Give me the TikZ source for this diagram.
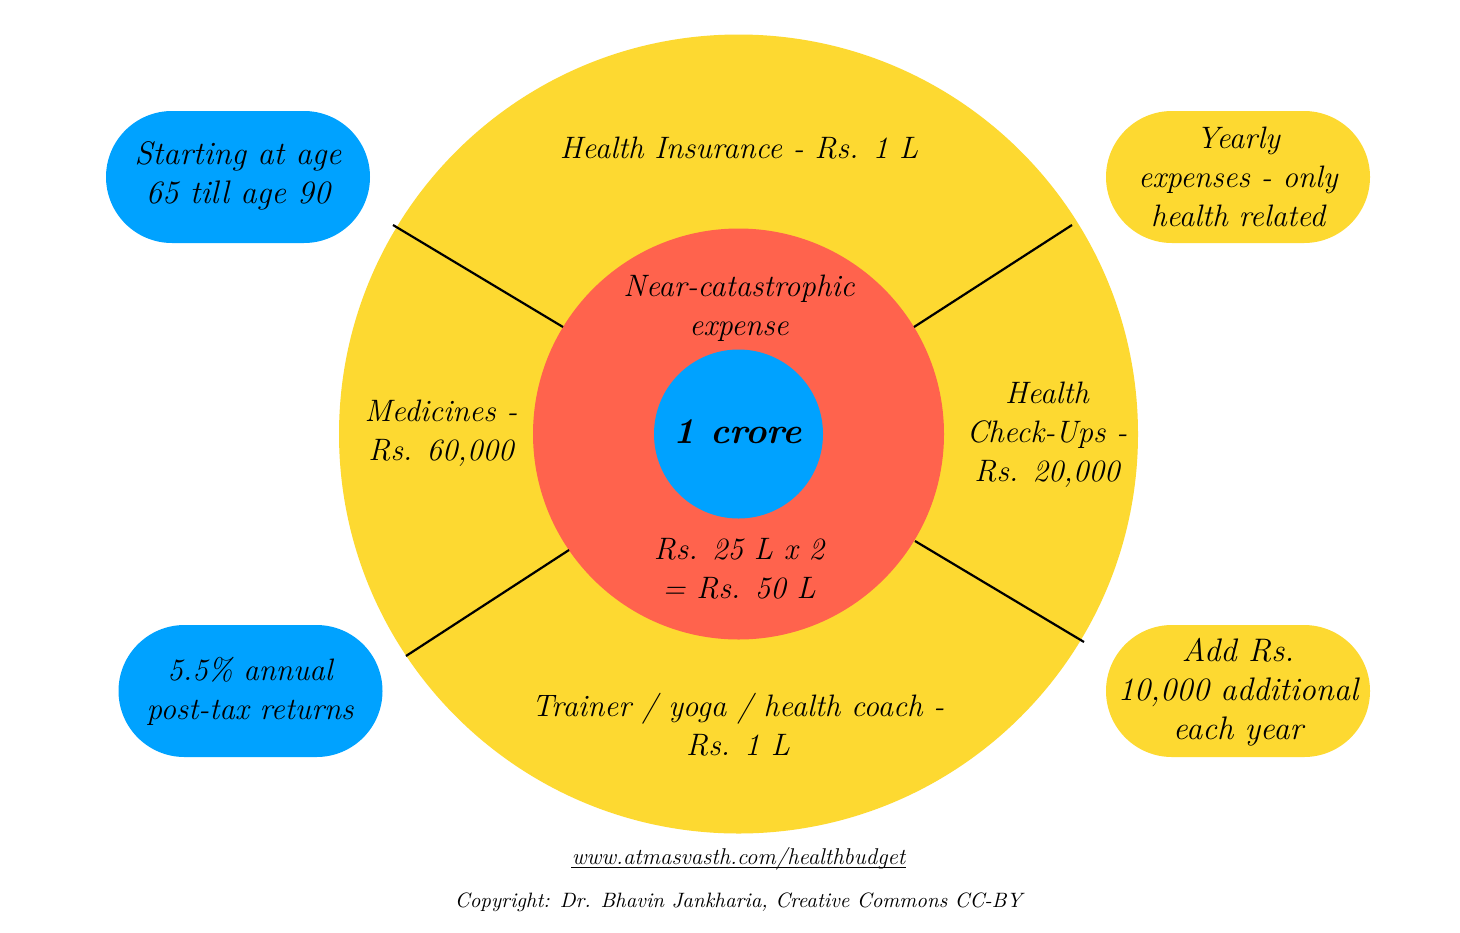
\documentclass[tikz,border=0pt]{standalone}
\usepackage{fontspec}
\setmainfont{Latin Modern Roman}
\definecolor{sun}{HTML}{FDD931}
\definecolor{coral}{HTML}{FF634D}
\definecolor{sky}{HTML}{00A2FF}
\tikzset{
  disc/.style={circle,inner sep=0pt,minimum size=#1},
  pill/.style={rounded corners=33pt,minimum width=132pt,minimum height=66pt,inner sep=0pt},
  lab/.style={align=center,text=black,font=\fontsize{15.5}{19.5}\selectfont\itshape,inner sep=0pt},
  labwide/.style={align=center,text=black,font=\fontsize{16.3}{19.5}\selectfont\itshape,inner sep=0pt},
  url/.style={text=black,font=\fontsize{11.4}{14}\selectfont\itshape,inner sep=0pt},
  credit/.style={text=black,font=\fontsize{10.4}{14}\selectfont\itshape,inner sep=0pt},
  divider/.style={draw=black,line width=1.1pt}
}
\begin{document}
\begin{tikzpicture}[x=0.5pt,y=-0.5pt]
\useasboundingbox (0,0) rectangle (1460,932);
\fill[white] (0,0) rectangle (1460,932);
\node[disc=399.5pt,fill=sun] (outer) at (738.5,434) {};
\node[disc=205.5pt,fill=coral] (mid) at (738.5,434) {};
\node[disc=84.5pt,fill=sky] (core) at (738.5,434) {};
\node[pill,fill=sky] (tl) at (238,177) {};
\node[pill,fill=sun] (tr) at (1238,177) {};
\node[pill,fill=sky] (bl) at (250.5,691) {};
\node[pill,fill=sun] (br) at (1238,691) {};
\coordinate (a1) at (393,225); \coordinate (a2) at (563,327);
\coordinate (b1) at (1072,225); \coordinate (b2) at (914,327);
\coordinate (c1) at (406,656); \coordinate (c2) at (569,550);
\coordinate (d1) at (1084,642); \coordinate (d2) at (915,541);
\draw[divider] (a1) -- (a2);
\draw[divider] (b1) -- (b2);
\draw[divider] (c1) -- (c2);
\draw[divider] (d1) -- (d2);
\node[lab] (t0) at (738,432) {\fontsize{18.1}{24}\selectfont\bfseries 1 crore};
\node[lab] (t1) at (739,308) {Near-catastrophic\\expense};
\node[lab] (t2) at (739,569) {Rs. 25 L x 2\\= Rs. 50 L};
\node[lab] (t3) at (739,148) {Health Insurance - Rs. 1 L};
\node[lab] (t4) at (441,433) {Medicines -\\Rs. 60,000};
\node[lab] (t5) at (1047,435) {Health\\Check-Ups -\\Rs. 20,000};
\node[lab] (t6) at (738,725) {Trainer / yoga / health coach -\\Rs. 1 L};
\node[labwide] (t7) at (238,176) {Starting at age\\65 till age 90};
\node[lab] (t8) at (1238,177) {Yearly\\expenses - only\\health related};
\node[lab] (t9) at (250,691) {5.5\% annual\\post-tax returns};
\node[labwide] (t10) at (1238,692) {Add Rs.\\10,000 additional\\each year};
\node[url] (u) at (738.5,859) {www.atmasvasth.com/healthbudget};
\draw[black,line width=0.5pt] ([yshift=-1.6pt]u.base west) -- ([yshift=-1.6pt]u.base east);
\node[credit] (v) at (738.5,902) {Copyright: Dr. Bhavin Jankharia, Creative Commons CC-BY};
\end{tikzpicture}
\end{document}
